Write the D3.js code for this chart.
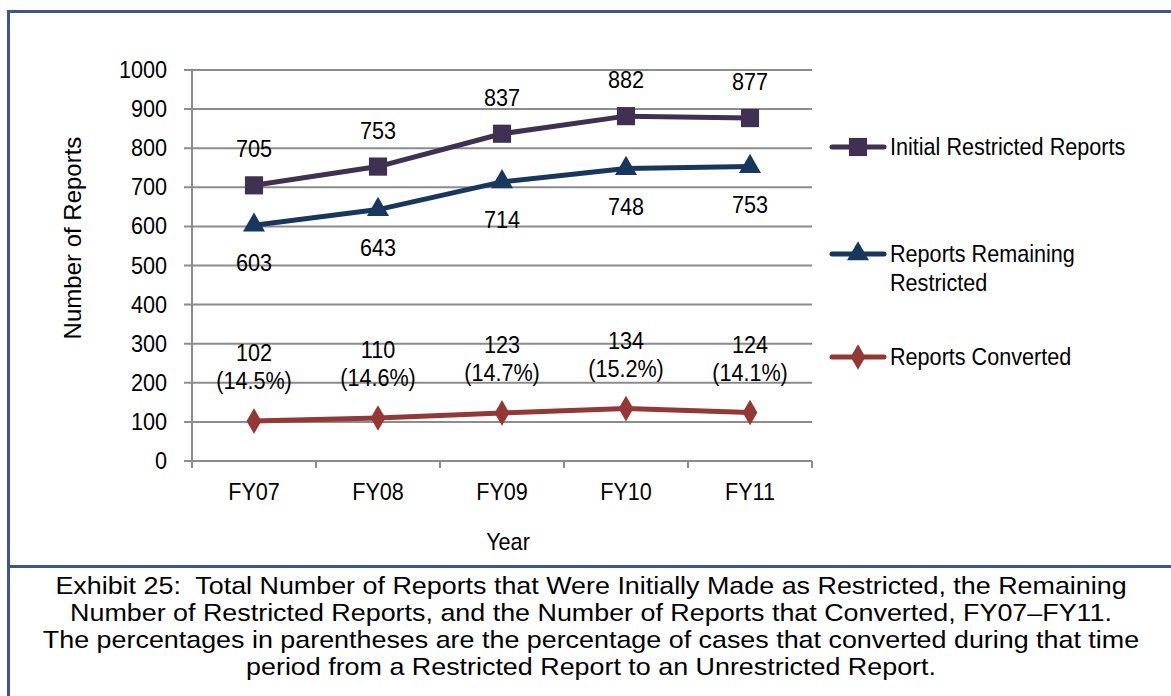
<!DOCTYPE html>
<html lang="en">
<head>
  <meta charset="UTF-8" />
  <title>Exhibit 25</title>
  <script src="https://d3js.org/d3.v7.min.js"></script>
  <style>
    * { margin: 0; padding: 0; box-sizing: border-box; }
    body { background: #fff; width: 1171px; height: 696px; overflow: hidden; }
    svg { display: block; font-family: 'Liberation Sans', Arial, sans-serif; }
    .caption { white-space: pre; }
  </style>
</head>
<body>
  <svg id="chart" width="1171" height="696"></svg>

  <script>
    const years = ['FY07', 'FY08', 'FY09', 'FY10', 'FY11'];
    const initialReports = [705, 753, 837, 882, 877];
    const remainingReports = [603, 643, 714, 748, 753];
    const convertedReports = [102, 110, 123, 134, 124];
    const convertedPct = ['14.5%', '14.6%', '14.7%', '15.2%', '14.1%'];
    const yTicks = [0, 100, 200, 300, 400, 500, 600, 700, 800, 900, 1000];
    const captionLines = [
      'Exhibit 25:  Total Number of Reports that Were Initially Made as Restricted, the Remaining',
      'Number of Restricted Reports, and the Number of Reports that Converted, FY07\u2013FY11.',
      'The percentages in parentheses are the percentage of cases that converted during that time',
      'period from a Restricted Report to an Unrestricted Report.'
    ];

    const svg = d3.select('#chart');
    const SX = 0.9;       // chart text is a bit condensed
    const FS = 24;
    const gridColor = '#8c8c8c';
    const borderColor = '#3d5590';

    const x = d3.scaleBand().domain(years).range([192, 812]);
    const y = d3.scaleLinear().domain([0, 1000]).range([461, 70]);
    const cx = d => x(d) + x.bandwidth() / 2;

    function label(g, px, py, s, anchor, size) {
      return g.append('text')
        .attr('transform', `translate(${px},${py}) scale(${SX},1)`)
        .attr('text-anchor', anchor || 'middle')
        .attr('font-size', size || FS)
        .attr('fill', '#000')
        .text(s);
    }

    // frame
    svg.append('line').attr('x1', 8).attr('x2', 1171).attr('y1', 11.5).attr('y2', 11.5)
      .attr('stroke', borderColor).attr('stroke-width', 3);
    svg.append('line').attr('x1', 8.5).attr('x2', 8.5).attr('y1', 10).attr('y2', 696)
      .attr('stroke', borderColor).attr('stroke-width', 3);
    svg.append('line').attr('x1', 8).attr('x2', 1171).attr('y1', 566.5).attr('y2', 566.5)
      .attr('stroke', borderColor).attr('stroke-width', 3);

    // grid + y axis
    const grid = svg.append('g');
    grid.selectAll('line').data(yTicks).enter().append('line')
      .attr('x1', 184).attr('x2', 812)
      .attr('y1', d => y(d)).attr('y2', d => y(d))
      .attr('stroke', gridColor).attr('stroke-width', 2);
    svg.append('line').attr('x1', 192).attr('x2', 192).attr('y1', y(1000)).attr('y2', 468)
      .attr('stroke', gridColor).attr('stroke-width', 2);
    yTicks.forEach(t => label(svg, 167, y(t) + 8, t, 'end'));

    // x axis ticks at band edges
    const edges = years.map(d => x(d)).concat([x.range()[1]]);
    svg.append('g').selectAll('line').data(edges).enter().append('line')
      .attr('x1', d => d).attr('x2', d => d).attr('y1', 461).attr('y2', 468)
      .attr('stroke', gridColor).attr('stroke-width', 2);
    years.forEach(d => label(svg, cx(d), 500, d));

    label(svg, 508, 550, 'Year');
    svg.append('text')
      .attr('transform', 'translate(81,238) rotate(-90)')
      .attr('text-anchor', 'middle').attr('font-size', FS).text('Number of Reports');

    const series = [
      { name: ['Initial Restricted Reports'], values: initialReports, color: '#403152', symbol: d3.symbolSquare, size: 330, ly: 147 },
      { name: ['Reports Remaining', 'Restricted'], values: remainingReports, color: '#17375e', symbol: d3.symbolTriangle, size: 210, ly: 254 },
      { name: ['Reports Converted'], values: convertedReports, color: '#953735', symbol: d3.symbolDiamond, size: 190, ly: 357 }
    ];

    const line = d3.line().x((d, i) => cx(years[i])).y(d => y(d));

    series.forEach(s => {
      svg.append('path').attr('d', line(s.values))
        .attr('fill', 'none').attr('stroke', s.color).attr('stroke-width', 5)
        .attr('stroke-linejoin', 'round');
      svg.append('g').selectAll('path').data(s.values).enter().append('path')
        .attr('d', d3.symbol().type(s.symbol).size(s.size))
        .attr('transform', (d, i) => `translate(${cx(years[i])},${y(d)})`)
        .attr('fill', s.color);

      // legend
      svg.append('line').attr('x1', 832).attr('x2', 884).attr('y1', s.ly).attr('y2', s.ly)
        .attr('stroke', s.color).attr('stroke-width', 5).attr('stroke-linecap', 'round');
      svg.append('path').attr('d', d3.symbol().type(s.symbol).size(s.size)())
        .attr('transform', `translate(858,${s.ly})`).attr('fill', s.color);
      s.name.forEach((n, k) => label(svg, 890, s.ly + 8 + k * 29, n, 'start'));
    });

    // data labels
    initialReports.forEach((v, i) => label(svg, cx(years[i]), y(v) - 28, v));
    remainingReports.forEach((v, i) => label(svg, cx(years[i]), y(v) + 46, v));
    convertedReports.forEach((v, i) => {
      label(svg, cx(years[i]), y(v) - 60, v);
      label(svg, cx(years[i]), y(v) - 32, `(${convertedPct[i]})`);
    });

    // caption
    captionLines.forEach((c, i) => {
      svg.append('text').attr('class', 'caption')
        .attr('transform', `translate(591,${594 + i * 27}) scale(1.12,1)`)
        .attr('text-anchor', 'middle').attr('font-size', 24).text(c);
    });
  </script>
</body>
</html>
